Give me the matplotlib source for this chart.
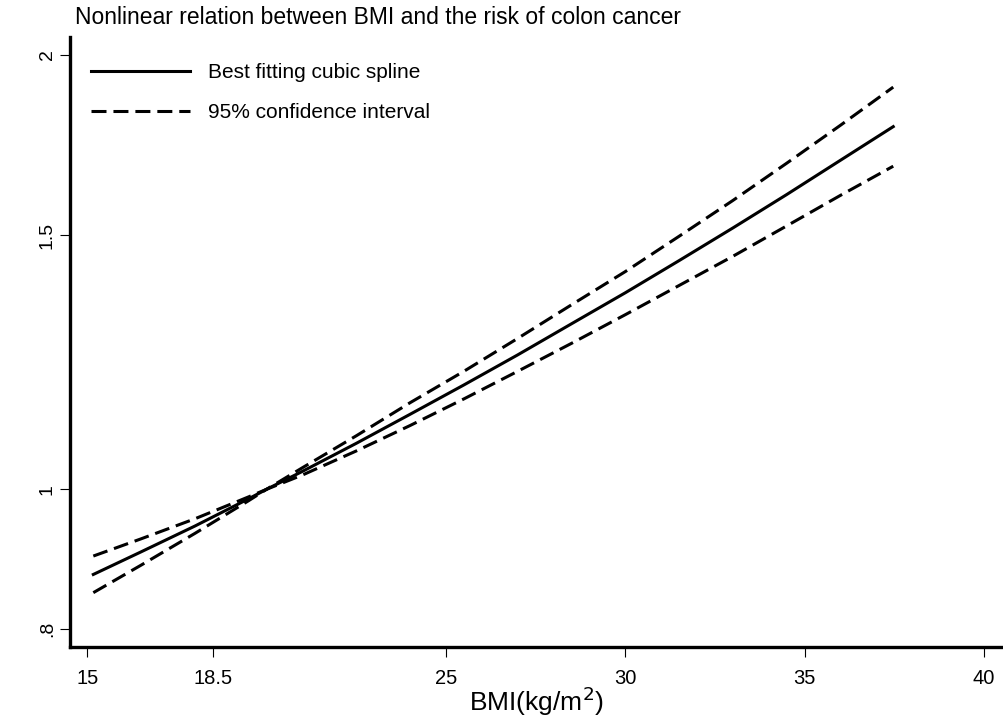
import numpy as np
import matplotlib
matplotlib.use("Agg")
from matplotlib import pyplot as plt
from matplotlib.ticker import NullLocator

# values (BMI vs relative risk)
bmi = [15.17, 16.5, 18.0, 19.5, 20.0, 21.0, 22.5, 24.0, 25.5, 27.0,
       28.5, 30.0, 31.5, 33.0, 34.5, 36.0, 37.47]
rr = [0.873, 0.905, 0.943, 0.985, 1.0, 1.029, 1.076, 1.127, 1.181, 1.239,
      1.302, 1.368, 1.440, 1.517, 1.600, 1.690, 1.783]
ci_upper = [0.899, 0.924, 0.954, 0.988, 1.0, 1.035, 1.089, 1.148, 1.207, 1.272,
            1.342, 1.415, 1.497, 1.585, 1.682, 1.787, 1.899]
ci_lower = [0.848, 0.886, 0.932, 0.982, 1.0, 1.023, 1.063, 1.107, 1.155, 1.207,
            1.262, 1.321, 1.384, 1.450, 1.522, 1.598, 1.674]

x_ticks = [15, 18.5, 25, 30, 35, 40]
x_tick_labels = ["15", "18.5", "25", "30", "35", "40"]
y_ticks = [0.8, 1, 1.5, 2]
y_tick_labels = [".8", "1", "1.5", "2"]

TITLE = "Nonlinear relation between BMI and the risk of colon cancer"

plt.rcParams["font.family"] = ["Liberation Sans", "DejaVu Sans"]
plt.rcParams["lines.scale_dashes"] = False

W, H = 1004, 722
fig = plt.figure(figsize=(W / 100, H / 100), dpi=100)
ax = fig.add_axes([70 / W, (H - 646.7) / H, (1003 - 70) / W, (646.7 - 37) / H])

dash = (0, (10.8, 5.0))
ax.plot(bmi, rr, color="black", lw=2.2, label="Best fitting cubic spline")
ax.plot(bmi, ci_upper, color="black", lw=2.2, linestyle=dash,
        label="95% confidence interval")
ax.plot(bmi, ci_lower, color="black", lw=2.2, linestyle=dash)

ax.set_yscale("log")
ax.set_xlim(14.52, 40.53)
ax.set_ylim(0.778, 2.057)
ax.set_xticks(x_ticks)
ax.set_xticklabels(x_tick_labels)
ax.set_yticks(y_ticks)
ax.set_yticklabels(y_tick_labels, rotation=90, va="center")
ax.yaxis.set_minor_locator(NullLocator())
ax.xaxis.set_minor_locator(NullLocator())

for side in ["top", "right"]:
    ax.spines[side].set_visible(False)
for side in ["left", "bottom"]:
    ax.spines[side].set_linewidth(2.4)
ax.tick_params(axis="both", which="major", length=7.2, width=0.8)
ax.tick_params(axis="x", labelsize=14.5, pad=9)
ax.tick_params(axis="y", labelsize=14, pad=3)

ax.set_xlabel("BMI(kg/m$^2$)", fontsize=19, labelpad=-2.5)

fig.text(75 / W, 1 - 18 / H, TITLE, fontsize=16.5, va="center", ha="left")

ax.legend(loc="upper left", bbox_to_anchor=(0.0225, 0.957), frameon=False,
          fontsize=15, handlelength=4.75, handletextpad=0.86,
          borderpad=0, borderaxespad=0, labelspacing=1.0)

fig.savefig("out.png", dpi=100)
